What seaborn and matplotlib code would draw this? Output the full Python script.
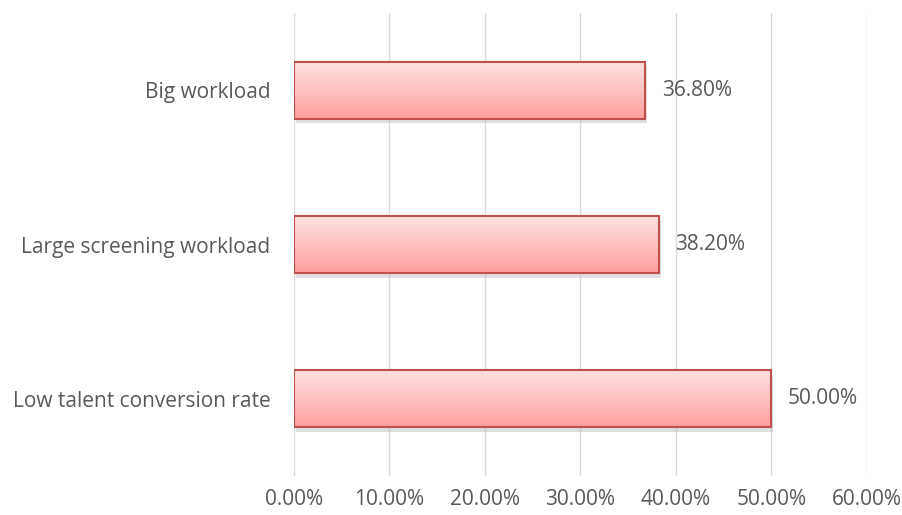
import numpy as np
import pandas as pd
import matplotlib
matplotlib.use("Agg")
import matplotlib.pyplot as plt
import seaborn as sns
from matplotlib.colors import LinearSegmentedColormap

# ===================== data =====================
categories = ["Big workload", "Large screening workload", "Low talent conversion rate"]
values = [36.8, 38.2, 50.0]
xticks = [0, 10, 20, 30, 40, 50, 60]

df = pd.DataFrame({"cat": categories, "val": values})

sns.set_style("white")
plt.rcParams['font.family'] = ['Open Sans', 'DejaVu Sans']
txt = '#595959'

fig = plt.figure(figsize=(9.03, 5.15), dpi=100)
ax = fig.add_axes([0.3256, 0.0757, 0.6344, 0.899])

sns.barplot(data=df, x="val", y="cat", orient="h", width=0.37,
            color="#ffc0c0", edgecolor="#c0504d", linewidth=1.5, ax=ax, zorder=3)

# gradient fill + soft shadow on each bar
cmap = LinearSegmentedColormap.from_list("pinkgrad", ["#ffe3e3", "#ff9f9f"])
grad = np.linspace(0, 1, 256).reshape(-1, 1)
for p in ax.patches:
    x0, y0 = p.get_x(), p.get_y()
    w, h = p.get_width(), p.get_height()
    sh = plt.Rectangle((x0 + 0.2, y0 + 0.03), w, h, color='#bbbbbb', alpha=0.45,
                       zorder=2, lw=0)
    ax.add_patch(sh)
    im = ax.imshow(grad, cmap=cmap, aspect='auto', extent=[x0, x0 + w, y0 + h, y0],
                   zorder=3.5)
    im.set_clip_path(p)
    p.set_facecolor('none')
    p.set_zorder(4)
    ax.text(x0 + w + 1.7, y0 + h / 2, f"{w:.2f}%", va='center', ha='left',
            fontsize=15, color=txt)

ax.set_xlim(0, 60)
ax.set_ylim(2.5, -0.5)
ax.set_xticks(xticks)
ax.set_xticklabels([f"{v:.2f}%" for v in xticks])
ax.xaxis.grid(True, color='#d9d9d9', lw=1, zorder=0)
ax.set_axisbelow(True)
for s in ax.spines.values():
    s.set_visible(False)
ax.tick_params(axis='x', length=0, pad=9, labelsize=15, labelcolor=txt)
ax.tick_params(axis='y', length=0, pad=17, labelsize=15, labelcolor=txt)
ax.set_xlabel("")
ax.set_ylabel("")

fig.savefig("out.png", dpi=100)
